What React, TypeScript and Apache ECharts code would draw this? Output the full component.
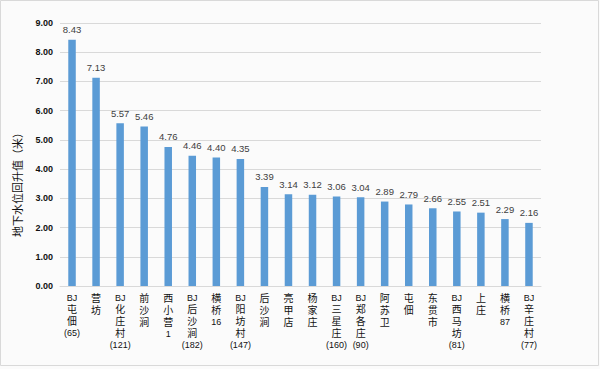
import React, { useEffect, useRef } from "react";
import * as echarts from "echarts";

const categories = [
  "BJ屯佃（65）", "营坊", "BJ化庄村（121）", "前沙涧", "西小营1", "BJ后沙涧（182）",
  "横桥16", "BJ阳坊村（147）", "后沙涧", "亮甲店", "杨家庄", "BJ三星庄（160）",
  "BJ郑各庄（90）", "阿苏卫", "屯佃", "东贯市", "BJ西马坊（81）", "上庄", "横桥87", "BJ辛庄村（77）",
];
const values = [8.43, 7.13, 5.57, 5.46, 4.76, 4.46, 4.40, 4.35, 3.39, 3.14, 3.12, 3.06, 3.04, 2.89, 2.79, 2.66, 2.55, 2.51, 2.29, 2.16];
const yAxisTitle = "地下水位回升值（米）";
const yMin = 0;
const yMax = 9;
const yInterval = 1;

function verticalLabel(name: string): string {
  const parts: string[] = [];
  let latin = "";
  for (const ch of name) {
    let c = ch;
    if (c === "（") c = "(";
    if (c === "）") c = ")";
    if (/[A-Za-z0-9()]/.test(c)) {
      latin += c;
    } else {
      if (latin) { parts.push("{l|" + latin + "}"); latin = ""; }
      parts.push("{c|" + c + "}");
    }
  }
  if (latin) parts.push("{l|" + latin + "}");
  return parts.join("\n");
}

export default function App() {
  const ref = useRef<HTMLDivElement>(null);
  useEffect(() => {
    document.body.style.margin = "0";
    if (!ref.current) return;
    const chart = echarts.init(ref.current, undefined, { renderer: "svg" });
    chart.setOption({
      animation: false,
      backgroundColor: "#fbfbfb",
      textStyle: { fontFamily: "'Liberation Sans', 'Noto Sans CJK SC', sans-serif" },
      graphic: [
        {
          type: "rect",
          shape: { x: 0.5, y: 0.5, width: 598, height: 365 },
          style: { fill: "none", stroke: "#d9d9d9", lineWidth: 1 },
          silent: true,
        },
        {
          type: "text",
          x: 17,
          y: 182,
          rotation: Math.PI / 2,
          style: {
            text: yAxisTitle,
            fill: "#111",
            fontSize: 11,
            fontFamily: "'Noto Sans CJK SC', sans-serif",
            align: "center",
            verticalAlign: "middle",
          },
          silent: true,
        },
      ],
      grid: { left: 60, right: 59, top: 23, bottom: 83, containLabel: false },
      xAxis: {
        type: "category",
        data: categories,
        axisLine: { show: true, lineStyle: { color: "#d9d9d9", width: 1 } },
        axisTick: { show: false },
        axisLabel: {
          interval: 0,
          margin: 6,
          color: "#111",
          formatter: (v: string) => verticalLabel(v),
          rich: {
            c: { fontSize: 10, lineHeight: 12, fontFamily: "'Liberation Sans', 'Noto Sans CJK SC', sans-serif", color: "#111" },
            l: { fontSize: 9, lineHeight: 11, fontFamily: "'Liberation Sans', sans-serif", color: "#111" },
          },
        },
      },
      yAxis: {
        type: "value",
        min: yMin,
        max: yMax,
        interval: yInterval,
        axisLine: { show: false },
        axisTick: { show: false },
        splitLine: { show: true, lineStyle: { color: "#d9d9d9", width: 1 } },
        axisLabel: {
          margin: 7,
          color: "#111",
          fontWeight: "bold",
          fontSize: 9,
          fontFamily: "'Liberation Sans', sans-serif",
          formatter: (v: number) => v.toFixed(2),
        },
      },
      series: [
        {
          type: "bar",
          data: values,
          barWidth: 7.5,
          itemStyle: { color: "#5b9bd5" },
          label: {
            show: true,
            position: "top",
            distance: 5,
            color: "#404040",
            fontSize: 9.5,
            fontFamily: "'Liberation Sans', sans-serif",
            formatter: (p: any) => Number(p.value).toFixed(2),
          },
        },
      ],
    });
    return () => chart.dispose();
  }, []);
  return <div ref={ref} style={{ width: 600, height: 369 }} />;
}
